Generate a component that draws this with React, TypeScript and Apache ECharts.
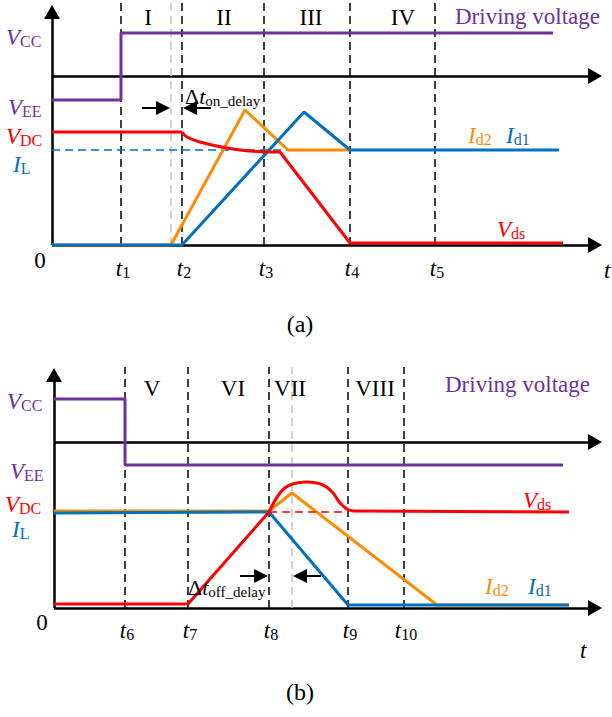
import React, { useEffect, useRef } from 'react';
import * as echarts from 'echarts';

const FONT = "'Liberation Serif', 'Times New Roman', serif";
const PURPLE = '#7030A0';
const RED = '#FF0000';
const ORANGE = '#FF8C00';
const BLUE = '#0070C0';

// ---------- Panel (a): turn-on ----------
const A_T = [6.9, 13.0, 21.2, 29.8, 38.3]; // t1..t5
const A_T_NAMES = ['1', '2', '3', '4', '5'];
const A_GRAY = 11.9;
const A_PHASES = ['I', 'II', 'III', 'IV'];
const A_MID = 16.9;
const A_DRIVE = [[0, 14.5], [6.9, 14.5], [6.9, 21.2], [50.1, 21.2]];
const A_IL = [[0, 9.5], [23.6, 9.5]];
const A_ID2 = [[0, 0], [11.9, 0], [19.3, 13.5], [23.6, 9.5], [29.8, 9.5]];
const A_ID1 = [[0, 0], [13.0, 0], [25.2, 13.3], [29.8, 9.5], [50.7, 9.5]];
const A_VDS_ON = [[0, 11.3], [13.0, 11.3]];
const A_VDS_TAIL = [[13.0, 11.3], [13.5, 10.8], [14.8, 10.3], [16.5, 9.9], [18.1, 9.6], [19.8, 9.4], [21.2, 9.3]];
const A_VDS_FALL = [[21.2, 9.3], [22.8, 9.3], [29.8, 0.2], [51.1, 0.2]];

// ---------- Panel (b): turn-off ----------
const B_T = [7.1, 13.4, 21.5, 29.4, 35.0]; // t6..t10
const B_T_NAMES = ['6', '7', '8', '9', '10'];
const B_GRAY = 23.8;
const B_PHASES = ['V', 'VI', 'VII', 'VIII'];
const B_MID = 16.6;
const B_DRIVE = [[0, 20.9], [7.1, 20.9], [7.1, 14.3], [50.9, 14.3]];
const B_ID2 = [[0, 9.7], [21.5, 9.7], [23.8, 11.5], [38.3, 0.3], [51.5, 0.3]];
const B_ID1 = [[0, 9.5], [21.5, 9.6], [29.4, 0.3], [51.5, 0.3]];
const B_VDC = [[21.5, 9.6], [29.4, 9.6]];
const B_VDS_RISE = [[0, 0.4], [13.4, 0.4], [21.5, 9.6]];
const B_VDS_BUMP = [[21.5, 9.6], [22.6, 11.5], [23.6, 12.3], [25.3, 12.6], [26.9, 12.3], [27.9, 11.5], [28.6, 10.5], [29.3, 9.9], [29.9, 9.7]];
const B_VDS_FLAT = [[29.9, 9.7], [51.5, 9.6]];

// ---------- layout ----------
const A_PHASE_X = [9.6, 17.2, 25.9, 35.1];
const B_PHASE_X = [9.8, 17.9, 23.6, 32.1];

function ln(name: string, g: number, data: number[][], color: string, extra: any = {}) {
  return {
    type: 'line', name, xAxisIndex: g, yAxisIndex: g, data,
    symbol: 'none', showSymbol: false, silent: true, z: 3,
    lineStyle: { color, width: 3, ...(extra.lineStyle || {}) },
    ...(extra.smooth ? { smooth: extra.smooth } : {}),
  };
}

function frame(g: number, mid: number, yTop: number, xEnd: number) {
  return {
    type: 'line', xAxisIndex: g, yAxisIndex: g, data: [[0, 0]], symbol: 'none', showSymbol: false, silent: true,
    markLine: {
      silent: true, z: 1, symbol: ['none', 'triangle'], symbolSize: [16, 14],
      label: { show: false }, emphasis: { disabled: true },
      lineStyle: { color: '#000', width: 2.5, type: 'solid' },
      data: [
        [{ coord: [0, 0] }, { coord: [0, yTop] }],
        [{ coord: [0, 0] }, { coord: [xEnd, 0] }],
        [{ coord: [0, mid] }, { coord: [xEnd, mid] }],
      ],
    },
  };
}

function dashes(g: number, ticks: number[], gray: number, top: number) {
  return {
    type: 'line', xAxisIndex: g, yAxisIndex: g, data: [[0, 0]], symbol: 'none', showSymbol: false, silent: true,
    markLine: {
      silent: true, z: 1, symbol: ['none', 'none'], label: { show: false }, emphasis: { disabled: true },
      lineStyle: { color: '#000', width: 1.5, type: [8, 5] },
      data: [
        [{ coord: [gray, 0], lineStyle: { color: '#c4c4c4', width: 1.5, type: [8, 5] } }, { coord: [gray, top] }],
        ...ticks.map((t) => [{ coord: [t, 0] }, { coord: [t, top] }]),
      ],
    },
  };
}

function buildOption() {
  return {
    animation: false,
    backgroundColor: '#fff',
    grid: [
      { left: 52, top: 0, width: 550, height: 245 },
      { left: 54, top: 363, width: 550, height: 245 },
    ],
    xAxis: [0, 1].map((g) => ({ type: 'value', gridIndex: g, min: 0, max: 55, show: false })),
    yAxis: [0, 1].map((g) => ({ type: 'value', gridIndex: g, min: 0, max: 24.5, show: false })),
    series: [
      frame(0, A_MID, 23.3, 54.3),
      dashes(0, A_T, A_GRAY, 24.4),
      ln('a-drive', 0, A_DRIVE, PURPLE),
      ln('a-IL', 0, A_IL, BLUE, { lineStyle: { width: 1.5, type: [8, 5] } }),
      ln('a-Id2', 0, A_ID2, ORANGE),
      ln('a-Id1', 0, A_ID1, BLUE),
      ln('a-Vds1', 0, A_VDS_ON, RED),
      ln('a-Vds2', 0, A_VDS_TAIL, RED, { smooth: 0.4 }),
      ln('a-Vds3', 0, A_VDS_FALL, RED),

      frame(1, B_MID, 23.3, 54.1),
      dashes(1, B_T, B_GRAY, 24.1),
      ln('b-drive', 1, B_DRIVE, PURPLE),
      ln('b-Id2', 1, B_ID2, ORANGE),
      ln('b-Id1', 1, B_ID1, BLUE),
      ln('b-VDC', 1, B_VDC, RED, { lineStyle: { width: 1.5, type: [8, 5] } }),
      ln('b-Vds1', 1, B_VDS_RISE, RED),
      ln('b-Vds2', 1, B_VDS_BUMP, RED, { smooth: 0.4 }),
      ln('b-Vds3', 1, B_VDS_FLAT, RED),
    ],
  };
}

type Part = [string, 'i' | 'r' | 's'];
function txt(x: number, y: number, parts: Part[], color: string, align = 'center', size = 23, sub = 16) {
  return {
    type: 'text', x, y, silent: true, z: 10,
    style: {
      text: parts.map(([t, k]) => `{${k}|${t}}`).join(''),
      align, verticalAlign: 'middle', textAlign: align, textVerticalAlign: 'middle',
      fill: color, fontFamily: FONT, fontSize: size,
      rich: {
        i: { fontFamily: FONT, fontStyle: 'italic', fontSize: size, lineHeight: size + 2, fill: color },
        r: { fontFamily: FONT, fontSize: size, lineHeight: size + 2, fill: color },
        s: { fontFamily: FONT, fontSize: sub, lineHeight: sub, fill: color, verticalAlign: 'bottom' },
      },
    },
  };
}

function arrow(tipX: number, y: number, dir: number) {
  const len = 28, head = 14, half = 7;
  return [
    { type: 'line', silent: true, z: 10, shape: { x1: tipX - dir * len, y1: y, x2: tipX - dir * (head - 2), y2: y }, style: { stroke: '#000', lineWidth: 2 } },
    { type: 'polygon', silent: true, z: 10, shape: { points: [[tipX, y], [tipX - dir * head, y - half], [tipX - dir * head, y + half]] }, style: { fill: '#000' } },
  ];
}

function buildGraphics(chart: any) {
  const px = (g: number, x: number, y: number) => chart.convertToPixel({ gridIndex: g }, [x, y]) as number[];
  const els: any[] = [];

  // ----- panel a -----
  A_PHASES.forEach((p, i) => els.push(txt(px(0, A_PHASE_X[i], 0)[0], 17, [[p, 'r']], '#000')));
  els.push(txt(455, 16, [['Driving voltage', 'r']], PURPLE, 'left'));
  els.push(txt(6, 37, [['V', 'i'], ['CC', 's']], PURPLE, 'left'));
  els.push(txt(8, 107, [['V', 'i'], ['EE', 's']], PURPLE, 'left'));
  els.push(txt(6, 136, [['V', 'i'], ['DC', 's']], RED, 'left'));
  els.push(txt(13, 164, [['I', 'i'], ['L', 's']], BLUE, 'left'));
  els.push(txt(185, 96, [['Δ', 'r'], ['t', 'i'], ['on_delay', 's']], '#000', 'left', 22, 15));
  els.push(...arrow(px(0, A_GRAY, 0)[0] - 1, 108, 1));
  els.push(...arrow(px(0, A_T[1], 0)[0] + 1, 108, -1));
  els.push(txt(468, 135, [['I', 'i'], ['d2', 's']], ORANGE, 'left'));
  els.push(txt(506, 135, [['I', 'i'], ['d1', 's']], BLUE, 'left'));
  els.push(txt(497, 229, [['V', 'i'], ['ds', 's']], RED, 'left'));
  const a0 = px(0, 0, 0);
  els.push(txt(a0[0] - 12, a0[1] + 15, [['0', 'r']], '#000'));
  A_T.forEach((t, i) => els.push(txt(px(0, t, 0)[0] + 2, a0[1] + 23, [['t', 'i'], [A_T_NAMES[i], 's']], '#000')));
  els.push(txt(604, a0[1] + 25, [['t', 'i']], '#000', 'left'));
  els.push(txt(300, 324, [['(a)', 'r']], '#000', 'center', 24));

  // ----- panel b -----
  B_PHASES.forEach((p, i) => els.push(txt(px(1, B_PHASE_X[i], 0)[0], 388, [[p, 'r']], '#000')));
  els.push(txt(445, 384, [['Driving voltage', 'r']], PURPLE, 'left'));
  els.push(txt(7, 401, [['V', 'i'], ['CC', 's']], PURPLE, 'left'));
  els.push(txt(10, 471, [['V', 'i'], ['EE', 's']], PURPLE, 'left'));
  els.push(txt(5, 504, [['V', 'i'], ['DC', 's']], RED, 'left'));
  els.push(txt(12, 529, [['I', 'i'], ['L', 's']], BLUE, 'left'));
  els.push(txt(188, 587, [['Δ', 'r'], ['t', 'i'], ['off_delay', 's']], '#000', 'left', 22, 15));
  els.push(...arrow(px(1, B_T[2], 0)[0] - 1, 576, 1));
  els.push(...arrow(px(1, B_GRAY, 0)[0] + 1, 576, -1));
  els.push(txt(523, 500, [['V', 'i'], ['ds', 's']], RED, 'left'));
  els.push(txt(485, 586, [['I', 'i'], ['d2', 's']], ORANGE, 'left'));
  els.push(txt(528, 586, [['I', 'i'], ['d1', 's']], BLUE, 'left'));
  const b0 = px(1, 0, 0);
  els.push(txt(b0[0] - 12, b0[1] + 14, [['0', 'r']], '#000'));
  B_T.forEach((t, i) => els.push(txt(px(1, t, 0)[0] + 2, b0[1] + 22, [['t', 'i'], [B_T_NAMES[i], 's']], '#000')));
  els.push(txt(580, b0[1] + 42, [['t', 'i']], '#000', 'left'));
  els.push(txt(300, 692, [['(b)', 'r']], '#000', 'center', 24));

  return els;
}

export default function App() {
  const ref = useRef<HTMLDivElement>(null);
  useEffect(() => {
    const chart = echarts.init(ref.current!, null, { renderer: 'svg' });
    chart.setOption(buildOption() as any);
    chart.setOption({ graphic: buildGraphics(chart) } as any);
    return () => chart.dispose();
  }, []);
  return (
    <div
      ref={ref}
      style={{ position: 'fixed', left: 0, top: 0, width: 612, height: 717, background: '#fff' }}
    />
  );
}
